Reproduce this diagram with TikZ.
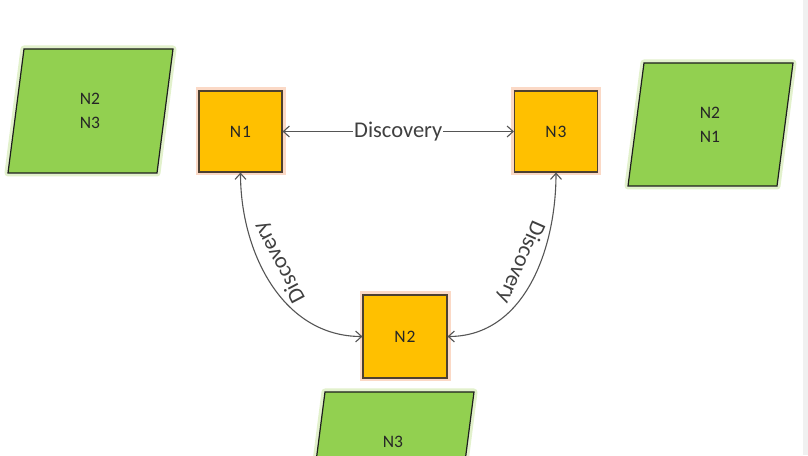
\documentclass[tikz,border=0pt]{standalone}
\usepackage{fontspec}
\setmainfont{Carlito}
\usetikzlibrary{arrows.meta}
\definecolor{boxfill}{HTML}{FFC000}
\definecolor{boxline}{HTML}{4D4030}
\definecolor{boxglow}{HTML}{FBD9C6}
\definecolor{parafill}{HTML}{92D050}
\definecolor{paraline}{HTML}{1E1E1E}
\definecolor{paraglow}{HTML}{E2F1CC}
\definecolor{conncol}{HTML}{555555}
\definecolor{txt}{HTML}{262626}
\definecolor{lbltxt}{HTML}{404040}
\begin{document}
\begin{tikzpicture}[x=1pt,y=1pt,
  nodebox/.style={draw=boxline, fill=boxfill, line width=1.2pt, minimum width=83pt, minimum height=81pt, inner sep=0pt, font=\fontsize{17.5}{20}\selectfont, text=txt, preaction={draw=boxglow, line width=7pt}},
  paratext/.style={align=center, font=\fontsize{17.5}{24}\selectfont, text=txt, inner sep=0pt},
  para/.style={draw=paraline, fill=parafill, line width=1.2pt, line join=miter, preaction={draw=paraglow, line width=7pt, line join=round}},
  conn/.style={draw=conncol, line width=1.1pt, {Straight Barb[length=6pt,width=11pt]}-{Straight Barb[length=6pt,width=11pt]}},
  lbl/.style={font=\fontsize{22.5}{26}\selectfont, text=lbltxt}
]
\useasboundingbox (0,0) rectangle (808,455);
\clip (0,0) rectangle (808,455);
\fill[white] (0,0) rectangle (808,455);
\fill[gray!12] (803,0) rectangle (808,455);

% parallelograms
\draw[para] (24,406) -- (173,406) -- (157,282) -- (8,282) -- cycle;
\node[paratext] (pleft) at (90,344) {N2\\N3};
\draw[para] (644,392) -- (793,392) -- (777,269) -- (628,269) -- cycle;
\node[paratext] (pright) at (710,330) {N2\\N1};
\draw[para] (325,63) -- (474,63) -- (458,-61) -- (309,-61) -- cycle;
\node[paratext] (pbottom) at (393,13) {N3};

% boxes
\node[nodebox] (n1) at (240.5,323.5) {N\kern1pt 1};
\node[nodebox] (n3) at (556,323.5) {N\kern1pt 3};
\node[nodebox, minimum width=84pt, minimum height=83pt] (n2) at (405,118.5) {N\kern1pt 2};

% connectors
\draw[conn] (n1) -- node[lbl, fill=white, inner sep=1pt] {Discovery} (n3);
\draw[conn] (n2.west) to[out=180,in=-90] node[lbl, sloped, allow upside down, below=5pt, pos=0.57] {Discovery} (n1.south);
\draw[conn] (n3.south) to[out=-90,in=0] node[lbl, sloped, allow upside down, below=5pt, pos=0.43] {Discovery} (n2.east);
\end{tikzpicture}
\end{document}
